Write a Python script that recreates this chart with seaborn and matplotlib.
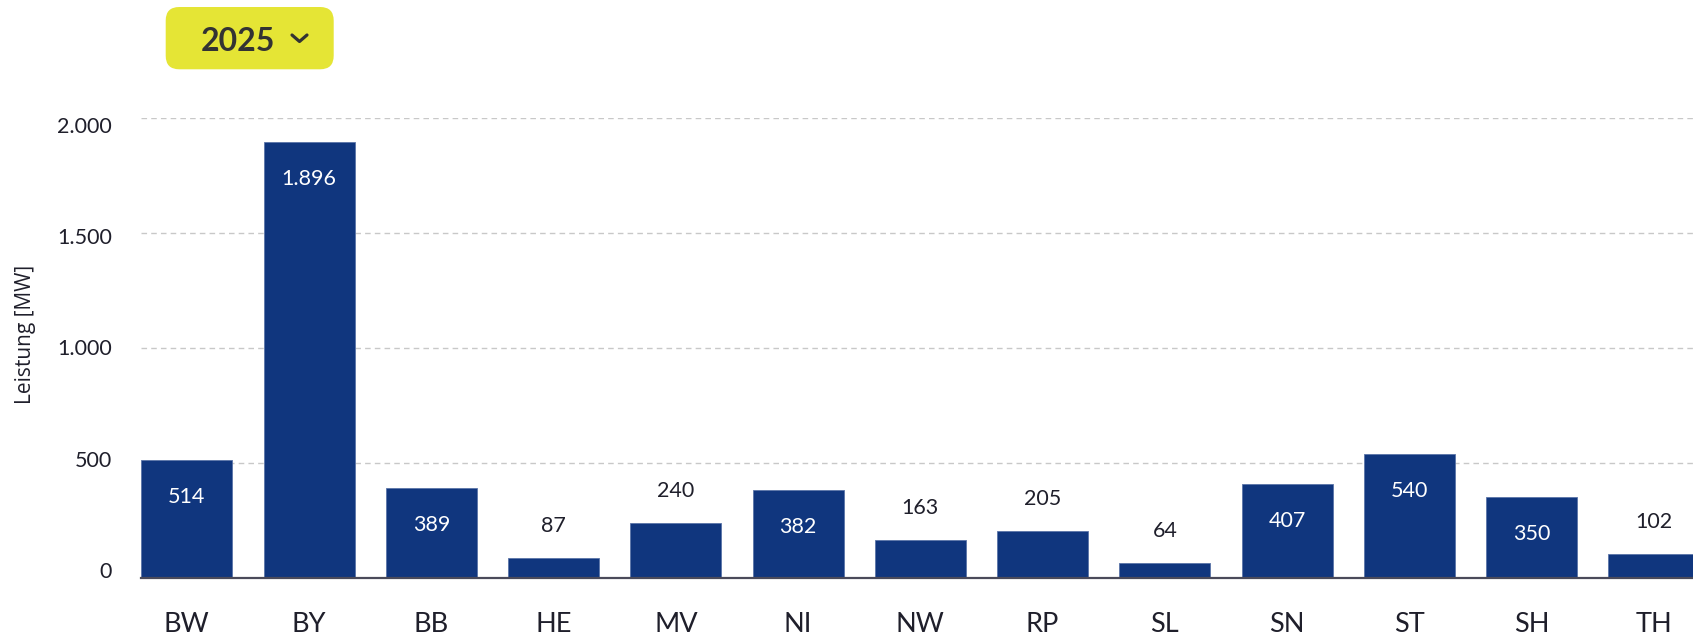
import matplotlib
matplotlib.use("Agg")
import matplotlib.pyplot as plt
import matplotlib.transforms as mtransforms
import pandas as pd
import seaborn as sns
from matplotlib.patches import FancyBboxPatch
from matplotlib.lines import Line2D

# Data: installed capacity per federal state (MW)
states = ["BW", "BY", "BB", "HE", "MV", "NI", "NW", "RP", "SL", "SN", "ST", "SH", "TH"]
leistung = [514, 1896, 389, 87, 240, 382, 163, 205, 64, 407, 540, 350, 102]
y_ticks = [0, 500, 1000, 1500, 2000]
year_label = "2025"

BAR_COLOR = "#10367e"
TEXT_COLOR = "#1f1f2b"

W, H, DPI = 1693, 637, 100

sns.set_theme(style="white")
plt.rcParams["font.family"] = ["Lato", "DejaVu Sans"]

df = pd.DataFrame({"state": states, "leistung": leistung})

fig = plt.figure(figsize=(W / DPI, H / DPI), dpi=DPI)
# axes in pixel coordinates of the reference (right edge runs slightly off the canvas)
left, right, top, bottom = 141.3, 1699.4, 118.3, 577.7
ax = fig.add_axes([left / W, 1 - bottom / H, (right - left) / W, (bottom - top) / H])

sns.barplot(data=df, x="state", y="leistung", color=BAR_COLOR, saturation=1,
            width=0.745, ax=ax, zorder=3)
for p in ax.patches:
    p.set_edgecolor("#5a74a8")
    p.set_linewidth(0.6)

ax.set_xlim(-0.3725, 12.3725)
ax.set_ylim(0, 2000)
ax.set_yticks(y_ticks)
ax.set_yticklabels([f"{v:,}".replace(",", ".") for v in y_ticks])
ax.yaxis.grid(True, color="#c8c8c8", linestyle=(0, (4, 3)), linewidth=1.0, zorder=0)
ax.xaxis.grid(False)
for s in ["top", "right", "left"]:
    ax.spines[s].set_visible(False)
ax.spines["bottom"].set_color("#4a4a5a")
ax.spines["bottom"].set_linewidth(1.6)
ax.spines["bottom"].set_zorder(4)
ax.tick_params(axis="y", length=0, pad=21, labelsize=15.5, labelcolor=TEXT_COLOR)
ax.tick_params(axis="x", length=0, pad=25, labelsize=19.5, labelcolor=TEXT_COLOR)
ax.set_xlabel("")
ax.set_ylabel("")

# the y tick labels in the original sit on a slightly compressed scale
for k, lab in enumerate(ax.get_yticklabels()):
    dy_px = 7.7 - 3.55 * k
    lab.set_transform(lab.get_transform() +
                      mtransforms.ScaledTranslation(0, dy_px / DPI, fig.dpi_scale_trans))

# value labels: inside the bar for tall bars, above for short ones
px_per_unit = (bottom - top) / 2000
for i, v in enumerate(leistung):
    txt = f"{v:,}".replace(",", ".")
    if v > 300:
        y = v - 43 / px_per_unit
        ax.text(i, y, txt, ha="center", va="baseline", color="white", fontsize=15.5, zorder=5)
    else:
        y = v + 26 / px_per_unit
        ax.text(i, y, txt, ha="center", va="baseline", color=TEXT_COLOR, fontsize=15.5, zorder=5)

fig.text(25 / W, 1 - 334 / H, "Leistung [MW]", rotation=90, ha="center", va="center",
         fontsize=15, color=TEXT_COLOR, family=["Open Sans", "DejaVu Sans"])

# year selector button
bx0, by0, bx1, by1 = 165.7, 7, 333.7, 69.3
button = FancyBboxPatch((bx0 / W, 1 - by1 / H), (bx1 - bx0) / W, (by1 - by0) / H,
                        boxstyle="round,pad=0,rounding_size=0.008",
                        transform=fig.transFigure, facecolor="#e5e535",
                        edgecolor="none", mutation_aspect=W / H)
fig.patches.append(button)
fig.text(238 / W, 1 - 51 / H, year_label, ha="center", va="baseline", fontsize=23,
         fontweight="bold", color="#333333")
fig.add_artist(Line2D([292 / W, 299.5 / W, 307 / W],
                      [1 - 35 / H, 1 - 41.5 / H, 1 - 35 / H],
                      transform=fig.transFigure, color="#333333", linewidth=2.3,
                      solid_capstyle="round", solid_joinstyle="round"))

fig.savefig("out.png", dpi=DPI)
